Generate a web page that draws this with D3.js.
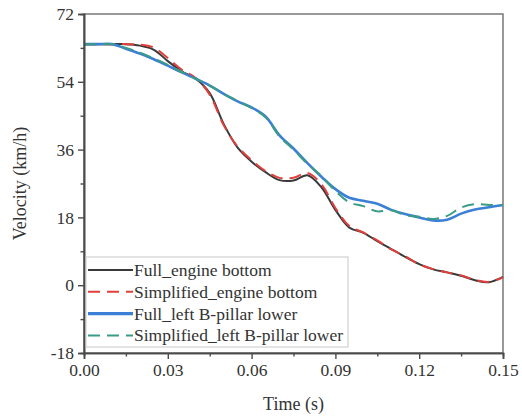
<!DOCTYPE html>
<html>
<head>
<meta charset="utf-8">
<script src="https://cdn.jsdelivr.net/npm/d3@7"></script>
<style>
  html, body { margin: 0; padding: 0; background: #fff; }
  svg { display: block; }
  svg text { font-family: 'Liberation Serif', 'Times New Roman', serif; fill: #333; }
</style>
</head>
<body>
<svg id="chart" width="522" height="418"></svg>
<script>
// Time samples (s)
const time = [0, 0.005, 0.01, 0.015, 0.02, 0.025, 0.03, 0.035, 0.04, 0.045, 0.05,
  0.055, 0.06, 0.065, 0.07, 0.075, 0.08, 0.085, 0.09, 0.095, 0.1,
  0.105, 0.11, 0.115, 0.12, 0.125, 0.13, 0.135, 0.14, 0.145, 0.15];

// Velocity (km/h) per measuring point
const fullEngine = [64, 64, 64, 64, 63.6, 62.5, 59.5, 56.8, 54.8, 51.0, 42.8,
  36.5, 32.8, 30.0, 27.9, 27.8, 29.2, 26.0, 20.0, 15.3, 13.9,
  11.7, 9.6, 7.5, 5.6, 4.2, 3.4, 2.5, 1.3, 0.8, 2.2];
const simplifiedEngine = [64, 64, 64, 64, 63.9, 63.1, 60.3, 57.2, 55.0, 50.6, 42.5,
  36.8, 33.2, 30.3, 28.5, 28.5, 29.8, 26.8, 20.5, 15.7, 14.0,
  11.9, 9.5, 7.7, 5.5, 4.3, 3.4, 2.6, 1.4, 0.9, 2.1];
const fullPillar = [64, 64, 64, 62.8, 61.5, 60.0, 58.3, 56.5, 54.8, 53.0, 50.8,
  48.8, 47.2, 44.8, 39.8, 36.3, 32.4, 28.8, 25.5, 23.2, 22.4,
  21.6, 20.0, 18.9, 18.0, 17.2, 17.4, 19.0, 20.1, 20.7, 21.3];
const simplifiedPillar = [64, 64, 64, 63.0, 61.7, 60.2, 58.5, 56.6, 54.8, 53.0, 50.8,
  48.9, 47.0, 44.6, 39.5, 36.0, 32.2, 29.0, 25.0, 22.0, 21.0,
  19.6, 19.9, 18.6, 18.2, 17.6, 18.4, 20.6, 21.5, 21.3, 21.3];

const seriesNames = ["Full_engine bottom", "Simplified_engine bottom",
  "Full_left B-pillar lower", "Simplified_left B-pillar lower"];

const xTicks = [0, 0.03, 0.06, 0.09, 0.12, 0.15];
const yTicks = [-18, 0, 18, 36, 54, 72];
const xMinorTicks = [0.015, 0.045, 0.075, 0.105, 0.135];
const yMinorTicks = [-9, 9, 27, 45, 63];

const SERIF = "'Liberation Serif', 'Times New Roman', serif";

const styles = [
  { color: "#3a3a3a", width: 2, dash: null },
  { color: "#e0403c", width: 2, dash: "12,7" },
  { color: "#3b7fd6", width: 2.6, dash: null },
  { color: "#3a9c86", width: 2, dash: "12,7" }
];
const seriesValues = [fullEngine, simplifiedEngine, fullPillar, simplifiedPillar];

const margin = { left: 84, top: 14, right: 19, bottom: 65 };
const W = 522, H = 418;
const svg = d3.select("#chart").attr("font-family", SERIF);

const x = d3.scaleLinear().domain([0, 0.15]).range([margin.left, W - margin.right]);
const y = d3.scaleLinear().domain([-18, 72]).range([H - margin.bottom, margin.top]);

// Plot frame (top and right)
svg.append("rect")
  .attr("x", x(0)).attr("y", y(72))
  .attr("width", x(0.15) - x(0)).attr("height", y(-18) - y(72))
  .attr("fill", "none").attr("stroke", "#808080").attr("stroke-width", 1.6);

// Series lines
const line = d3.line()
  .x((d, i) => x(time[i]))
  .y(d => y(d))
  .curve(d3.curveCatmullRom.alpha(0.5));

seriesValues.forEach((vals, k) => {
  svg.append("path")
    .datum(vals)
    .attr("d", line)
    .attr("fill", "none")
    .attr("stroke", styles[k].color)
    .attr("stroke-width", styles[k].width)
    .attr("stroke-dasharray", styles[k].dash)
    .attr("stroke-linejoin", "round");
});

// Axes
const fmtX = d3.format(".2f");
const fmtY = d => String(d); // plain hyphen for negatives
const xAxis = svg.append("g")
  .attr("transform", `translate(0,${y(-18)})`)
  .call(d3.axisBottom(x).tickValues(xTicks).tickFormat(fmtX).tickSize(6).tickPadding(5));
const xMinor = svg.append("g")
  .attr("transform", `translate(0,${y(-18)})`)
  .call(d3.axisBottom(x).tickValues(xMinorTicks).tickFormat("").tickSize(3.5));
const yAxis = svg.append("g")
  .attr("transform", `translate(${x(0)},0)`)
  .call(d3.axisLeft(y).tickValues(yTicks).tickFormat(fmtY).tickSize(6).tickPadding(4));
const yMinor = svg.append("g")
  .attr("transform", `translate(${x(0)},0)`)
  .call(d3.axisLeft(y).tickValues(yMinorTicks).tickFormat("").tickSize(3.5));

[xAxis, xMinor, yAxis, yMinor].forEach(g => {
  g.attr("font-family", SERIF).attr("font-size", 17.5);
  g.select(".domain").attr("stroke", "#4a4a4a").attr("stroke-width", 1.6);
  g.selectAll(".tick line").attr("stroke", "#4a4a4a").attr("stroke-width", 1.4);
  g.selectAll(".tick text").style("font-family", SERIF).attr("fill", "#333");
});

// Axis titles
svg.append("text")
  .attr("x", (x(0) + x(0.15)) / 2).attr("y", 410)
  .attr("text-anchor", "middle").attr("font-size", 18)
  .style("font-family", SERIF)
  .text("Time (s)");
svg.append("text")
  .attr("transform", `translate(26,${(y(-18) + y(72)) / 2}) rotate(-90)`)
  .attr("text-anchor", "middle").attr("font-size", 18)
  .style("font-family", SERIF)
  .text("Velocity (km/h)");

// Legend
const legend = svg.append("g").attr("transform", "translate(86,257)");
legend.append("rect")
  .attr("width", 262).attr("height", 90)
  .attr("fill", "#fff").attr("fill-opacity", 0.85)
  .attr("stroke", "#c8c8c8").attr("stroke-width", 1);
seriesNames.forEach((name, k) => {
  const cy = 13 + k * 21.8;
  legend.append("line")
    .attr("x1", 2).attr("x2", 47).attr("y1", cy).attr("y2", cy)
    .attr("stroke", styles[k].color)
    .attr("stroke-width", k === 2 ? 3.2 : styles[k].width)
    .attr("stroke-dasharray", styles[k].dash);
  legend.append("text")
    .attr("x", 48).attr("y", cy + 6)
    .attr("font-size", 17.5)
    .style("font-family", SERIF)
    .text(name);
});
</script>
</body>
</html>
